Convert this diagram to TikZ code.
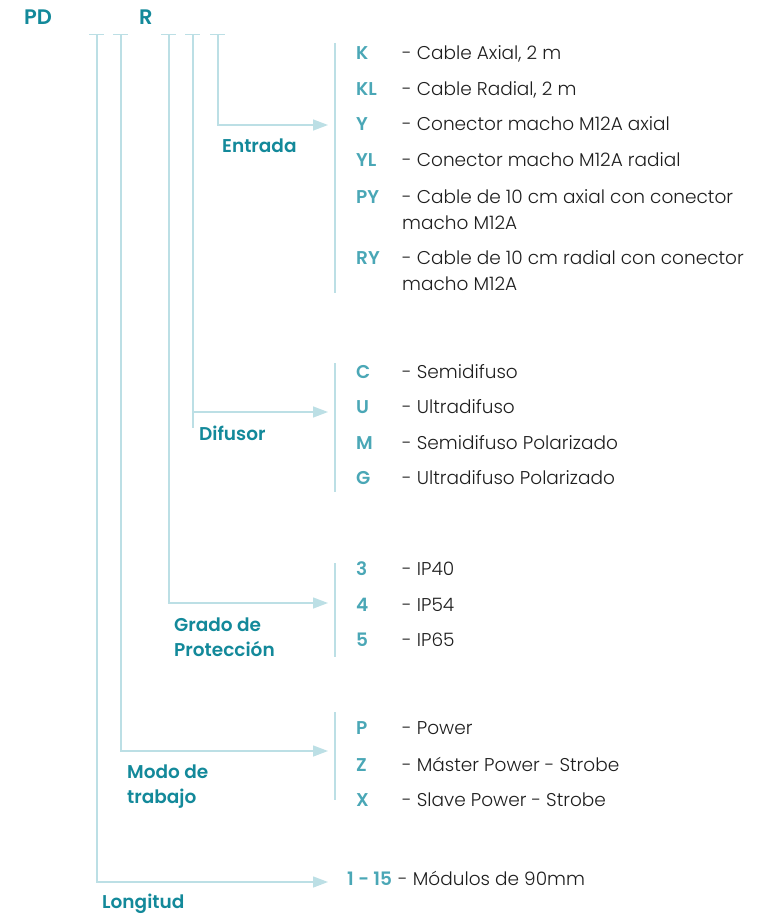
\documentclass[tikz,border=0pt]{standalone}
\usepackage{fontspec}
\setmainfont{Poppins}[UprightFont={* Light},BoldFont={* SemiBold}]
\usetikzlibrary{arrows.meta}
\definecolor{headc}{HTML}{13899A}
\definecolor{codec}{HTML}{4AA7B6}
\definecolor{linec}{HTML}{BCDFE5}
\definecolor{txtc}{HTML}{1E1E1E}
\tikzset{
  conn/.style={draw=linec, line width=1.4pt, -{Triangle[length=15pt,width=11pt,fill=linec]}},
  rule/.style={draw=linec, line width=1.4pt},
  head/.style={anchor=base west, inner sep=0pt, text=headc, font=\fontsize{18.5}{24.5}\selectfont\bfseries, align=left},
  top/.style={head, font=\fontsize{21}{24}\selectfont\bfseries},
  code/.style={anchor=base west, inner sep=0pt, text=codec, font=\fontsize{18.5}{25}\selectfont\bfseries},
  desc/.style={anchor=base west, inner sep=0pt, text=txtc, font=\fontsize{18.5}{26}\selectfont, align=left},
}
\begin{document}
\begin{tikzpicture}[x=1pt,y=-1pt]
\useasboundingbox (0,0) rectangle (765,915);
% top labels
\node[top] (pd) at (24,25) {PD};
\node[top] (r) at (139,25) {R};
% ticks
\foreach \n/\x in {t1/97,t2/121,t3/169,t4/193,t5/218}{
  \coordinate (\n) at (\x,34.5);
  \draw[rule] ([xshift=-8pt]\n) -- ([xshift=7pt]\n);
}
% arrow ends
\coordinate (e1) at (328,125);
\coordinate (e2) at (328,412);
\coordinate (e3) at (328,603);
\coordinate (e4) at (328,751);
\coordinate (e5) at (328,882);
\draw[conn] (t5) |- (e1);
\draw[conn] (t4) |- (e2);
\draw[rule] (193,412) -- (193,428);
\draw[conn] (t3) |- (e3);
\draw[conn] (t2) |- (e4);
\draw[conn] (t1) |- (e5);
% brackets
\draw[rule] (335,43) -- (335,293);
\draw[rule] (335,363) -- (335,492);
\draw[rule] (335,563) -- (335,657);
\draw[rule] (335,712) -- (335,800);
% headings (base = last line)
\node[head] (hentrada) at (222,152) {Entrada};
\node[head] (hdifusor) at (199,440) {Difusor};
\node[head] (hgrado) at (174,656) {Grado de\\Protección};
\node[head] (hmodo) at (127,803) {Modo de\\trabajo};
\node[head] (hlong) at (102,908) {Longitud};
% Entrada
\node[code] (cK) at (356,60) {K};
\node[desc] (dK) at (402,60) {- Cable Axial, 2 m};
\node[code] (cKL) at (356,96) {KL};
\node[desc] (dKL) at (402,96) {- Cable Radial, 2 m};
\node[code] (cY) at (356,131) {Y};
\node[desc] (dY) at (402,131) {- Conector macho M12A axial};
\node[code] (cYL) at (356,166) {YL};
\node[desc] (dYL) at (402,166) {- Conector macho M12A radial};
\node[code] (cPY) at (356,203) {PY};
\node[desc] (dPY) at (402,229) {- Cable de 10 cm axial con conector\\macho M12A};
\node[code] (cRY) at (356,264) {RY};
\node[desc] (dRY) at (402,290) {- Cable de 10 cm radial con conector\\macho M12A};
% Difusor
\node[code] (cC) at (356,378) {C};
\node[desc] (dC) at (402,378) {- Semidifuso};
\node[code] (cU) at (356,413) {U};
\node[desc] (dU) at (402,413) {- Ultradifuso};
\node[code] (cM) at (356,449) {M};
\node[desc] (dM) at (402,449) {- Semidifuso Polarizado};
\node[code] (cG) at (356,484) {G};
\node[desc] (dG) at (402,484) {- Ultradifuso Polarizado};
% Grado
\node[code] (c3) at (356,575) {3};
\node[desc] (d3) at (402,575) {- IP40};
\node[code] (c4) at (356,611) {4};
\node[desc] (d4) at (402,611) {- IP54};
\node[code] (c5) at (356,646) {5};
\node[desc] (d5) at (402,646) {- IP65};
% Modo
\node[code] (cP) at (356,734) {P};
\node[desc] (dP) at (402,734) {- Power};
\node[code] (cZ) at (356,771) {Z};
\node[desc] (dZ) at (402,771) {- Máster Power - Strobe};
\node[code] (cX) at (356,806) {X};
\node[desc] (dX) at (402,806) {- Slave Power - Strobe};
% Longitud
\node[code] (c115) at (347,885) {1 - 15};
\node[desc] (d115) at (398,885) {- Módulos de 90mm};
\end{tikzpicture}
\end{document}
